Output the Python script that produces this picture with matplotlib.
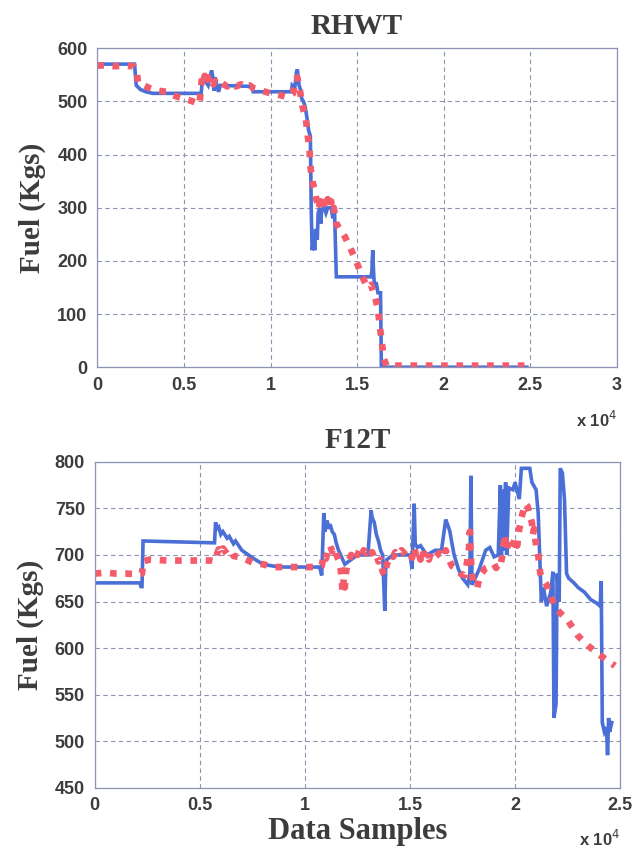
import numpy as np
import matplotlib
matplotlib.use('Agg')
import matplotlib.pyplot as plt

# RHWT: (muestra, combustible)
rhwt_real = [(0, 570), (2150, 570), (2250, 530), (2500, 522), (2800, 518), (3200, 515),
             (6000, 515), (6050, 535), (6200, 540), (6400, 530), (6500, 545), (6600, 558),
             (6700, 540), (6750, 520), (6800, 545), (6900, 530), (7000, 518), (7100, 530),
             (8900, 528), (9000, 518), (11200, 518), (11250, 530), (11400, 525), (11500, 555),
             (11550, 560), (11650, 530), (11750, 520), (11800, 505), (11900, 500), (12000, 490),
             (12100, 470), (12200, 445), (12300, 435), (12350, 300), (12400, 220), (12450, 230),
             (12500, 250), (12550, 220), (12600, 260), (12700, 240), (12750, 290), (12850, 300),
             (12900, 270), (12950, 295), (13100, 300), (13200, 290), (13300, 300), (13500, 300),
             (13600, 280), (13700, 290), (13800, 170), (15800, 170), (15850, 180), (15900, 220),
             (15950, 180), (16000, 150), (16100, 160), (16200, 140), (16350, 140), (16400, 0),
             (24800, 0)]
rhwt_est = [(0, 567), (500, 568), (1000, 566), (1500, 567), (2100, 566), (2200, 560), (2300, 550),
            (2350, 535), (2500, 532), (2700, 530), (3000, 525), (3500, 520), (4000, 518),
            (4500, 510), (5000, 505), (5500, 500), (5900, 495), (6000, 530), (6050, 545),
            (6100, 535), (6200, 548), (6300, 536), (6400, 545), (6500, 533), (6600, 540),
            (6700, 532), (6800, 538), (7000, 530), (7200, 534), (7500, 528), (7800, 533),
            (8000, 528), (8300, 532), (8500, 527), (8800, 530), (9000, 525), (9500, 520),
            (10000, 515), (10500, 512), (11000, 508), (11300, 515), (11450, 540), (11550, 545),
            (11700, 520), (11850, 490), (11950, 478), (12050, 465), (12150, 435), (12250, 410),
            (12300, 380), (12350, 365), (12450, 345), (12550, 335), (12650, 315), (12750, 305),
            (12800, 315), (12850, 298), (12900, 312), (12950, 300), (13000, 315), (13050, 295),
            (13100, 310), (13200, 300), (13300, 316), (13400, 298), (13500, 312), (13550, 295),
            (13650, 300), (13800, 270), (14000, 260), (14300, 245), (14600, 225), (15000, 195),
            (15300, 170), (15600, 150), (15800, 155), (15900, 145), (16050, 130), (16200, 110),
            (16300, 80), (16450, 40), (16550, 15), (16700, 3), (24800, 3)]

# F12T
f12t_real = [(0, 670), (2150, 670), (2200, 666), (2250, 666), (2300, 715), (5700, 713), (5750, 735),
             (5800, 728), (5900, 730), (6000, 722), (6100, 725), (6300, 718), (6400, 720),
             (6600, 712), (6700, 715), (7000, 705), (7500, 697), (8000, 690), (8500, 688),
             (9000, 687), (10700, 687), (10800, 678), (10900, 745), (10950, 725), (11050, 737),
             (11150, 728), (11200, 733), (11300, 725), (11400, 722), (11500, 712), (11600, 705),
             (11700, 700), (11900, 690), (12200, 695), (12500, 700), (13000, 700), (13150, 748),
             (13200, 740), (13300, 735), (13400, 722), (13500, 715), (13600, 705), (13700, 700),
             (13800, 640), (13850, 690), (13900, 695), (14200, 700), (15000, 700), (15100, 685),
             (15200, 755), (15250, 712), (15350, 708), (15500, 710), (15800, 700), (16200, 705),
             (16500, 705), (16700, 738), (16800, 732), (16900, 725), (17000, 712), (17100, 700),
             (17300, 685), (17500, 675), (17750, 668), (17850, 680), (17900, 785), (17950, 668),
             (18100, 675), (18300, 685), (18600, 705), (18800, 708), (19000, 698), (19200, 700),
             (19300, 775), (19350, 700), (19400, 770), (19450, 705), (19550, 778), (19600, 700),
             (19700, 772), (19900, 770), (20000, 778), (20200, 760), (20300, 793), (20700, 793),
             (20800, 778), (21000, 770), (21100, 745), (21250, 650), (21350, 665), (21500, 645),
             (21700, 660), (21800, 682), (21850, 525), (21950, 540), (22000, 680), (22100, 650),
             (22150, 793), (22250, 788), (22350, 760), (22450, 680), (22550, 675), (22800, 670),
             (23000, 665), (23300, 660), (23600, 652), (23900, 648), (24050, 645), (24100, 672),
             (24150, 520), (24250, 510), (24350, 515), (24400, 485), (24450, 525), (24500, 510),
             (24600, 520)]
f12t_est = [(0, 680), (500, 681), (1000, 680), (1500, 680), (2100, 679), (2250, 680), (2300, 693),
            (2600, 695), (3500, 694), (4500, 694), (5500, 694), (5700, 693), (5800, 700),
            (5900, 706), (6000, 702), (6100, 707), (6300, 701), (6500, 704), (6600, 699),
            (7000, 697), (7500, 692), (8000, 690), (8500, 687), (9500, 687), (10700, 687),
            (10800, 688), (10900, 700), (11000, 696), (11100, 706), (11200, 710), (11300, 704),
            (11400, 708), (11500, 700), (11600, 695), (11700, 685), (11750, 672), (11800, 660),
            (11850, 675), (11900, 665), (11950, 680), (12000, 688), (12100, 695), (12200, 700),
            (12300, 697), (12400, 703), (12500, 700), (12600, 705), (12700, 700), (12800, 705),
            (12900, 702), (13000, 705), (13100, 700), (13200, 703), (13300, 697), (13400, 700),
            (13500, 693), (13600, 695), (13700, 682), (13800, 678), (13900, 690), (14000, 695),
            (14100, 700), (14200, 698), (14300, 703), (14400, 700), (14600, 705), (14800, 700),
            (15000, 703), (15100, 697), (15200, 708), (15300, 698), (15400, 703), (15500, 695),
            (15600, 705), (15700, 697), (15800, 700), (15900, 695), (16000, 703), (16200, 698),
            (16400, 702), (16600, 697), (16700, 705), (16800, 698), (16900, 693), (17000, 688),
            (17200, 685), (17400, 680), (17600, 678), (17700, 690), (17800, 705), (17850, 725),
            (17900, 695), (17950, 680), (18000, 672), (18100, 668), (18200, 665), (18300, 675),
            (18400, 680), (18600, 686), (18800, 688), (19000, 690), (19100, 686), (19200, 690),
            (19300, 688), (19400, 700), (19500, 722), (19600, 705), (19700, 715), (19800, 708),
            (19900, 712), (20000, 718), (20100, 710), (20200, 728), (20300, 740), (20400, 748),
            (20500, 755), (20600, 752), (20700, 742), (20800, 735), (20850, 722), (20900, 728),
            (21000, 710), (21100, 700), (21150, 690), (21200, 680), (21300, 675), (21500, 668),
            (21700, 655), (22000, 641), (22500, 630), (23000, 613), (23500, 602), (24000, 593),
            (24750, 581)]

rhwt_xticks = [0, 5000, 10000, 15000, 20000, 25000, 30000]
rhwt_xlabels = ['0', '0.5', '1', '1.5', '2', '2.5', '3']
rhwt_yticks = [0, 100, 200, 300, 400, 500, 600]
f12t_xticks = [0, 5000, 10000, 15000, 20000, 25000]
f12t_xlabels = ['0', '0.5', '1', '1.5', '2', '2.5']
f12t_yticks = [450, 500, 550, 600, 650, 700, 750, 800]

azul = '#4a6fd6'
rojo = '#f45c6c'
gris_eje = '#8f93b3'
texto = '#3c3c3c'
serif = ['Liberation Serif', 'DejaVu Serif']
sans = ['Liberation Sans', 'DejaVu Sans']

fig = plt.figure(figsize=(6.4, 8.6), dpi=100)
ax1 = fig.add_axes([0.152, 0.573, 0.812, 0.371])
ax2 = fig.add_axes([0.148, 0.084, 0.821, 0.379])


def dibujar(ax, real, est, xt, xl, yt, titulo, y_exp):
    r = np.array(real)
    e = np.array(est)
    ax.plot(r[:, 0], r[:, 1], color=azul, lw=2.6, solid_joinstyle='miter')
    ax.plot(e[:, 0], e[:, 1], color=rojo, lw=4.8, linestyle=(0, (1, 1.3)))
    ax.set_xlim(xt[0], xt[-1])
    ax.set_ylim(yt[0], yt[-1])
    ax.set_xticks(xt)
    ax.set_xticklabels(xl)
    ax.set_yticks(yt)
    ax.grid(True, linestyle=(0, (4, 3)), color=gris_eje, lw=0.8)
    for s in ax.spines.values():
        s.set_color(gris_eje)
        s.set_linewidth(0.9)
    ax.tick_params(length=0, pad=7, labelcolor=texto, labelsize=13)
    for lab in ax.get_xticklabels() + ax.get_yticklabels():
        lab.set_family(sans)
        lab.set_fontweight('bold')
    ax.set_title(titulo, family=serif, fontweight='bold', fontsize=21, color=texto, pad=10)
    ax.set_ylabel('Fuel (Kgs)', family=serif, fontweight='bold', fontsize=21, color=texto, labelpad=8)
    ax.text(1.0, y_exp, 'x 10$^4$', transform=ax.transAxes, ha='right', va='top',
            family=sans, fontweight='bold', fontsize=12, color=texto)


dibujar(ax1, rhwt_real, rhwt_est, rhwt_xticks, rhwt_xlabels, rhwt_yticks, 'RHWT', -0.135)
dibujar(ax2, f12t_real, f12t_est, f12t_xticks, f12t_xlabels, f12t_yticks, 'F12T', -0.125)
ax2.set_xlabel('Data Samples', family=serif, fontweight='bold', fontsize=22, color=texto, labelpad=2)

fig.savefig('out.png', dpi=100, facecolor='white')
